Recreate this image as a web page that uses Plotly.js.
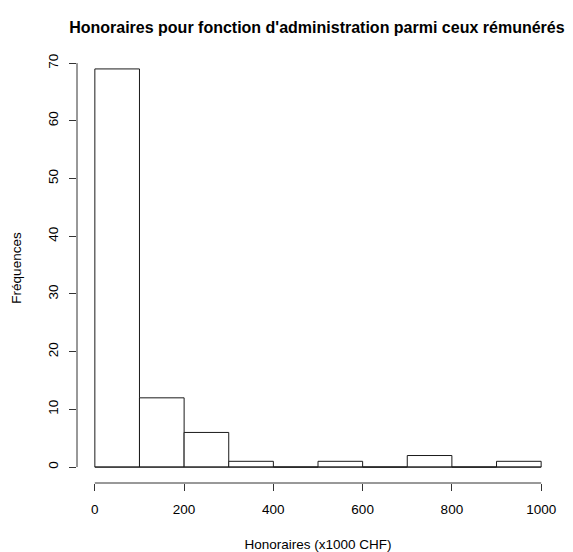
<!DOCTYPE html>
<html>
<head>
<meta charset="utf-8">
<script src="https://cdn.plot.ly/plotly-3.0.1.min.js"></script>
<style>html,body{margin:0;padding:0;background:#fff;}#chart{width:573px;height:552px;}</style>
</head>
<body>
<div id="chart"></div>
<script>
const binStarts = [0, 100, 200, 300, 400, 500, 600, 700, 800, 900];
const binWidth = 100;
const counts = [69, 12, 6, 1, 0, 1, 0, 2, 0, 1];
const xTicks = [0, 200, 400, 600, 800, 1000];
const yTicks = [0, 10, 20, 30, 40, 50, 60, 70];

const centers = binStarts.map(s => s + binWidth / 2);
const xMin = binStarts[0], xMax = binStarts[binStarts.length - 1] + binWidth;
const yMax = Math.max(...counts);
const xPad = (xMax - xMin) * 0.04, yPad = yMax * 0.04;

const font = "Liberation Sans, Arial, Helvetica, sans-serif";

const trace = {
  type: 'bar', x: centers, y: counts, width: binWidth,
  marker: {color: '#ffffff', line: {color: '#1a1a1a', width: 1}},
  hoverinfo: 'x+y'
};

const layout = {
  width: 573, height: 552,
  margin: {l: 77, r: 14, t: 53, b: 69},
  paper_bgcolor: '#fff', plot_bgcolor: '#fff',
  showlegend: false,
  title: {text: "<b>Honoraires pour fonction d'administration parmi ceux rémunérés</b>",
          font: {family: font, size: 16, color: '#000'}, x: 0.553, xanchor: 'center', y: 0.95, yanchor: 'middle'},
  xaxis: {range: [xMin - xPad, xMax + xPad], tickvals: xTicks, ticktext: xTicks.map(String),
          showgrid: false, zeroline: false, showline: false,
          ticks: 'outside', ticklen: 7, tickcolor: '#333', tickwidth: 1, ticklabelstandoff: 7,
          tickfont: {family: font, size: 13.5, color: '#000'},
          title: {text: 'Honoraires (x1000 CHF)', font: {family: font, size: 13.5, color: '#000'}, standoff: 26}},
  yaxis: {range: [-yPad, yMax + yPad], tickvals: yTicks, ticktext: yTicks.map(String),
          showgrid: false, zeroline: false, showline: false, tickangle: -90,
          ticks: 'outside', ticklen: 7, tickcolor: '#333', tickwidth: 1, ticklabelstandoff: 6,
          tickfont: {family: font, size: 13.5, color: '#000'},
          title: {text: 'Fréquences', font: {family: font, size: 13.5, color: '#000'}, standoff: 20}},
  shapes: [
    {type: 'line', xref: 'x', yref: 'paper', x0: xTicks[0], x1: xTicks[xTicks.length - 1], y0: 0, y1: 0,
     line: {color: '#333', width: 1}},
    {type: 'line', xref: 'paper', yref: 'y', x0: 0, x1: 0, y0: yTicks[0], y1: yTicks[yTicks.length - 1],
     line: {color: '#333', width: 1}},
    {type: 'line', xref: 'x', yref: 'y', x0: xMin, x1: xMax, y0: 0, y1: 0,
     line: {color: '#1a1a1a', width: 1}}
  ]
};

Plotly.newPlot('chart', [trace], layout, {displayModeBar: false, staticPlot: true});
</script>
</body>
</html>
